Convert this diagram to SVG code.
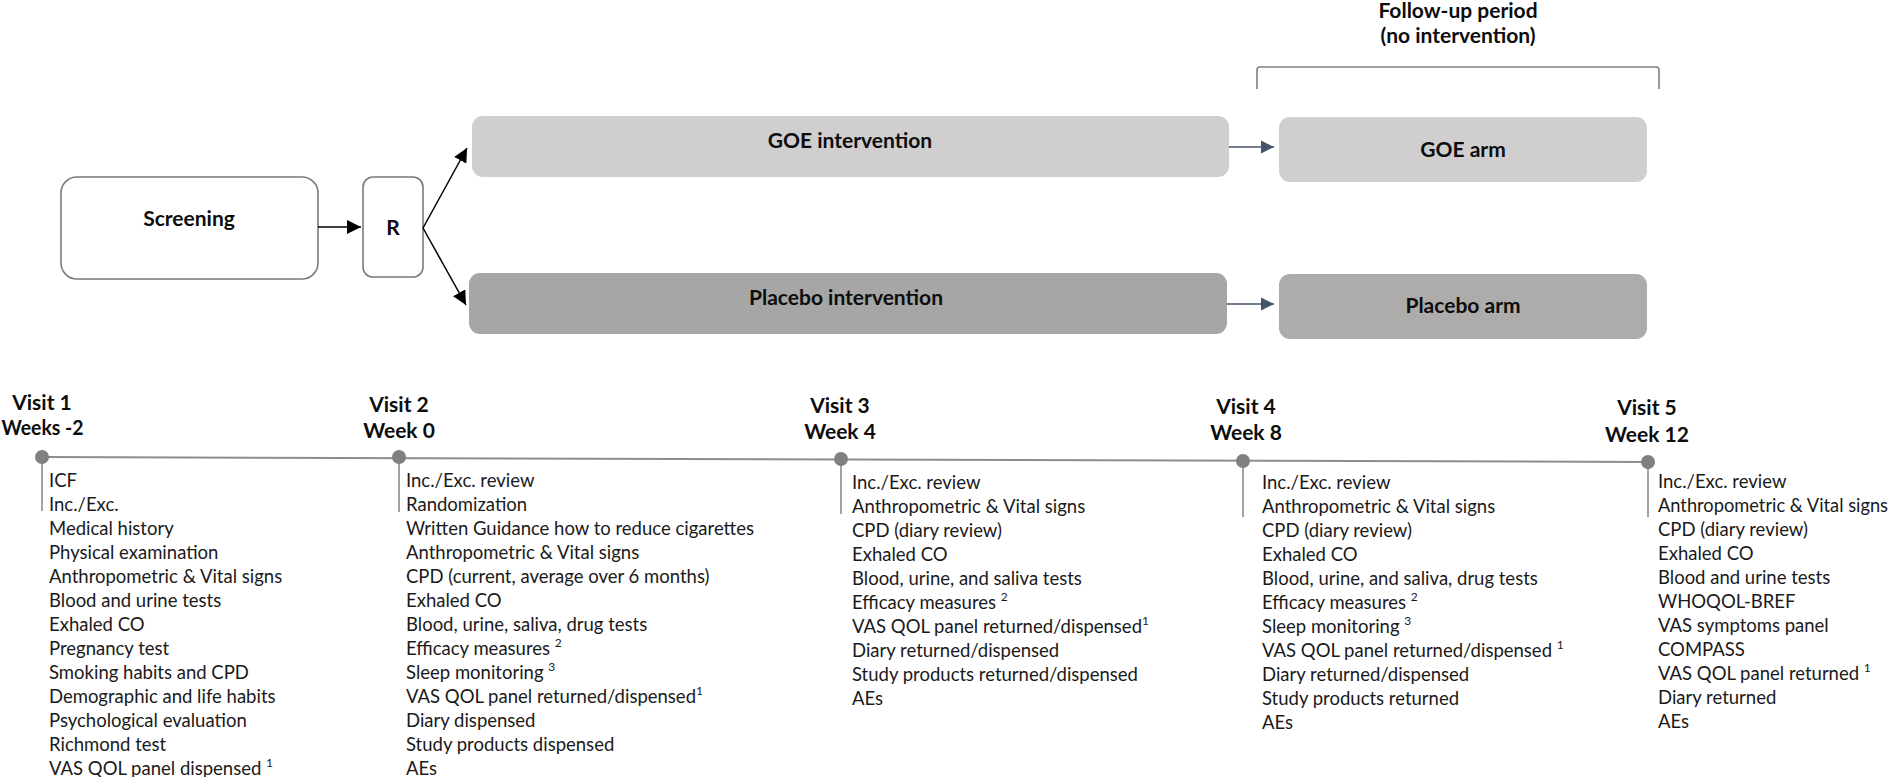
<svg xmlns="http://www.w3.org/2000/svg" width="1890" height="777" viewBox="0 0 1890 777">
<style>
.b{font-family:Lato,"Liberation Sans",sans-serif;font-weight:bold;fill:#0d0d0d}
.t{font-family:Lato,"Liberation Sans",sans-serif;font-size:18.5px;fill:#1a1a1a}
.hd{font-size:21px;text-anchor:middle}
.bx{font-size:21px;text-anchor:middle}
.sup{font-size:12px}
.tick{stroke:#8c8c8c;stroke-width:1.6}
.dot{fill:#808080}
</style>
<defs>
<marker id="ab" markerUnits="userSpaceOnUse" markerWidth="15" markerHeight="14" refX="14" refY="7" orient="auto"><path d="M0,0 L14,7 L0,14 Z" fill="#000"/></marker>
<marker id="as" markerUnits="userSpaceOnUse" markerWidth="14" markerHeight="14" refX="13" refY="7" orient="auto"><path d="M0,0.5 L13,7 L0,13.5 Z" fill="#44546a"/></marker>
</defs>
<rect width="1890" height="777" fill="#fff"/>
<g id="screening"><rect x="61" y="177" width="257" height="102" rx="16" fill="#fff" stroke="#7a7a7a" stroke-width="1.6"/><text class="b bx" x="189" y="226">Screening</text></g>
<g id="r"><rect x="363" y="177" width="60" height="100" rx="10" fill="#fff" stroke="#7a7a7a" stroke-width="1.6"/><text class="b bx" x="393" y="235">R</text></g>
<g id="goe-intervention"><rect x="472" y="116" width="757" height="61" rx="11" fill="#d0cece"/><text class="b bx" x="850" y="148">GOE intervention</text></g>
<g id="placebo-intervention"><rect x="469" y="273" width="758" height="61" rx="11" fill="#a6a6a6"/><text class="b bx" x="846" y="305">Placebo intervention</text></g>
<g id="goe-arm"><rect x="1279" y="117" width="368" height="65" rx="11" fill="#d0cece"/><text class="b bx" x="1463" y="157">GOE arm</text></g>
<g id="placebo-arm"><rect x="1279" y="274" width="368" height="65" rx="11" fill="#aeabab"/><text class="b bx" x="1463" y="313">Placebo arm</text></g>
<g id="follow-up"><path d="M1257,89 L1257,70 Q1257,67 1260,67 L1656,67 Q1659,67 1659,70 L1659,89" fill="none" stroke="#7f7f7f" stroke-width="1.6"/><text class="b bx" x="1458" y="18">Follow-up period</text><text class="b bx" x="1458" y="43">(no intervention)</text></g>
<g id="connectors" fill="none">
<path d="M318,227 L361,227" stroke="#000" stroke-width="1.5" marker-end="url(#ab)"/>
<path d="M423,228 L467,148" stroke="#000" stroke-width="1.5" marker-end="url(#ab)"/>
<path d="M423,228 L466,305" stroke="#000" stroke-width="1.5" marker-end="url(#ab)"/>
<path d="M1229,147 L1274,147" stroke="#44546a" stroke-width="1.6" marker-end="url(#as)"/>
<path d="M1227,304 L1274,304" stroke="#44546a" stroke-width="1.6" marker-end="url(#as)"/>
<path d="M42,457 L1648,462" stroke="#8c8c8c" stroke-width="2"/>
</g>
<g id="visit1">
<text class="b hd" x="42" y="410">Visit 1</text><text class="b hd" x="42.5" y="435" textLength="82" lengthAdjust="spacingAndGlyphs">Weeks -2</text>
<line class="tick" x1="42" y1="457" x2="42" y2="511"/><circle class="dot" cx="42" cy="457" r="7"/>
<text class="t" x="49" y="487">ICF</text>
<text class="t" x="49" y="511">Inc./Exc.</text>
<text class="t" x="49" y="535">Medical history</text>
<text class="t" x="49" y="559">Physical examination</text>
<text class="t" x="49" y="583">Anthropometric &amp; Vital signs</text>
<text class="t" x="49" y="607">Blood and urine tests</text>
<text class="t" x="49" y="631">Exhaled CO</text>
<text class="t" x="49" y="655">Pregnancy test</text>
<text class="t" x="49" y="679">Smoking habits and CPD</text>
<text class="t" x="49" y="703">Demographic and life habits</text>
<text class="t" x="49" y="727">Psychological evaluation</text>
<text class="t" x="49" y="751">Richmond test</text>
<text class="t" x="49" y="775">VAS QOL panel dispensed <tspan class="sup" dy="-8">1</tspan></text>
</g>
<g id="visit2">
<text class="b hd" x="399" y="412">Visit 2</text><text class="b hd" x="399" y="438">Week 0</text>
<line class="tick" x1="399" y1="457" x2="399" y2="512"/><circle class="dot" cx="399" cy="457" r="7"/>
<text class="t" x="406" y="487">Inc./Exc. review</text>
<text class="t" x="406" y="511">Randomization</text>
<text class="t" x="406" y="535">Written Guidance how to reduce cigarettes</text>
<text class="t" x="406" y="559">Anthropometric &amp; Vital signs</text>
<text class="t" x="406" y="583">CPD (current, average over 6 months)</text>
<text class="t" x="406" y="607">Exhaled CO</text>
<text class="t" x="406" y="631">Blood, urine, saliva, drug tests</text>
<text class="t" x="406" y="655">Efficacy measures <tspan class="sup" dy="-8">2</tspan></text>
<text class="t" x="406" y="679">Sleep monitoring <tspan class="sup" dy="-8">3</tspan></text>
<text class="t" x="406" y="703">VAS QOL panel returned/dispensed<tspan class="sup" dy="-8">1</tspan></text>
<text class="t" x="406" y="727">Diary dispensed</text>
<text class="t" x="406" y="751">Study products dispensed</text>
<text class="t" x="406" y="775">AEs</text>
</g>
<g id="visit3">
<text class="b hd" x="840" y="413">Visit 3</text><text class="b hd" x="840" y="439">Week 4</text>
<line class="tick" x1="841" y1="459" x2="841" y2="514"/><circle class="dot" cx="841" cy="459" r="7"/>
<text class="t" x="852" y="489">Inc./Exc. review</text>
<text class="t" x="852" y="513">Anthropometric &amp; Vital signs</text>
<text class="t" x="852" y="537">CPD (diary review)</text>
<text class="t" x="852" y="561">Exhaled CO</text>
<text class="t" x="852" y="585">Blood, urine, and saliva tests</text>
<text class="t" x="852" y="609">Efficacy measures <tspan class="sup" dy="-8">2</tspan></text>
<text class="t" x="852" y="633">VAS QOL panel returned/dispensed<tspan class="sup" dy="-8">1</tspan></text>
<text class="t" x="852" y="657">Diary returned/dispensed</text>
<text class="t" x="852" y="681">Study products returned/dispensed</text>
<text class="t" x="852" y="705">AEs</text>
</g>
<g id="visit4">
<text class="b hd" x="1246" y="414">Visit 4</text><text class="b hd" x="1246" y="440">Week 8</text>
<line class="tick" x1="1243" y1="461" x2="1243" y2="517"/><circle class="dot" cx="1243" cy="461" r="7"/>
<text class="t" x="1262" y="489">Inc./Exc. review</text>
<text class="t" x="1262" y="513">Anthropometric &amp; Vital signs</text>
<text class="t" x="1262" y="537">CPD (diary review)</text>
<text class="t" x="1262" y="561">Exhaled CO</text>
<text class="t" x="1262" y="585">Blood, urine, and saliva, drug tests</text>
<text class="t" x="1262" y="609">Efficacy measures <tspan class="sup" dy="-8">2</tspan></text>
<text class="t" x="1262" y="633">Sleep monitoring <tspan class="sup" dy="-8">3</tspan></text>
<text class="t" x="1262" y="657">VAS QOL panel returned/dispensed <tspan class="sup" dy="-8">1</tspan></text>
<text class="t" x="1262" y="681">Diary returned/dispensed</text>
<text class="t" x="1262" y="705">Study products returned</text>
<text class="t" x="1262" y="729">AEs</text>
</g>
<g id="visit5">
<text class="b hd" x="1647" y="415">Visit 5</text><text class="b hd" x="1647" y="442">Week 12</text>
<line class="tick" x1="1648" y1="462" x2="1648" y2="517"/><circle class="dot" cx="1648" cy="462" r="7"/>
<text class="t" x="1658" y="488">Inc./Exc. review</text>
<text class="t" x="1658" y="512" textLength="230" lengthAdjust="spacingAndGlyphs">Anthropometric &amp; Vital signs</text>
<text class="t" x="1658" y="536">CPD (diary review)</text>
<text class="t" x="1658" y="560">Exhaled CO</text>
<text class="t" x="1658" y="584">Blood and urine tests</text>
<text class="t" x="1658" y="608">WHOQOL-BREF</text>
<text class="t" x="1658" y="632">VAS symptoms panel</text>
<text class="t" x="1658" y="656">COMPASS</text>
<text class="t" x="1658" y="680">VAS QOL panel returned <tspan class="sup" dy="-8">1</tspan></text>
<text class="t" x="1658" y="704">Diary returned</text>
<text class="t" x="1658" y="728">AEs</text>
</g>
</svg>
